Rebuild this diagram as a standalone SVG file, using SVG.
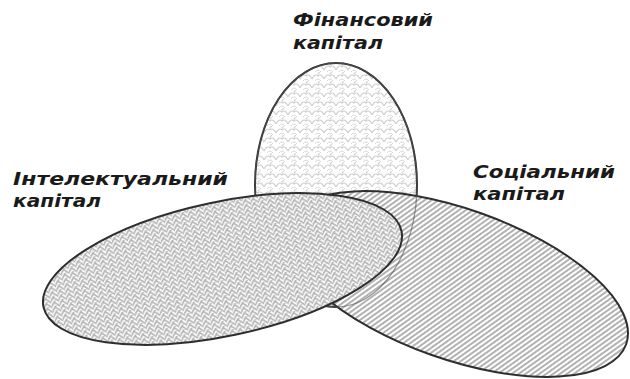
<svg xmlns="http://www.w3.org/2000/svg" width="630" height="379" viewBox="0 0 630 379">
  <style>
    .lbl { font-family: "DejaVu Sans", Verdana, sans-serif; font-weight: bold; font-style: italic; font-size: 17.5px; fill: #1a1a1a; }
    .edge { stroke: #2e2e2e; stroke-width: 2; }
  </style>
  <defs>
    <pattern id="hatch" width="4" height="10" patternUnits="userSpaceOnUse" patternTransform="rotate(35)">
      <rect width="4" height="10" fill="#ffffff"/>
      <line x1="2" y1="0" x2="2" y2="10" stroke="#999999" stroke-width="1.5"/>
    </pattern>
    <pattern id="weave" width="8" height="5" patternUnits="userSpaceOnUse">
      <rect width="8" height="5" fill="#ffffff"/>
      <path d="M-0.5,5.5 L4.5,-0.5 M3.5,2 L8.5,7 M3.5,-3 L8.5,2 M-0.5,0.5 L0.5,-0.5" fill="none" stroke="#b3b3b3" stroke-width="1.7"/>
    </pattern>
    <pattern id="scales" width="12" height="9" patternUnits="userSpaceOnUse">
      <rect width="12" height="9" fill="#ffffff"/>
      <path d="M0,7 Q3,1 6,4 Q9,1 12,7 M-6,2.5 Q-3,-3.5 0,-0.5 M6,2.5 Q9,-3.5 12,-0.5" fill="none" stroke="#d0d0d0" stroke-width="1.1"/>
      <path d="M3,9 Q6,5 9,9" fill="none" stroke="#d8d8d8" stroke-width="1"/>
    </pattern>
  </defs>

  <g id="financial-capital">
    <ellipse cx="336" cy="185" rx="81" ry="122" fill="url(#scales)" class="edge"/>
    <text class="lbl" x="293" y="26" textLength="140" lengthAdjust="spacingAndGlyphs">Фінансовий</text>
    <text class="lbl" x="293" y="49" textLength="90" lengthAdjust="spacingAndGlyphs">капітал</text>
  </g>

  <g id="social-capital">
    <ellipse cx="456" cy="284" rx="180.5" ry="75" transform="rotate(19.5 456 284)" fill="url(#hatch)" class="edge"/>
    <text class="lbl" x="473" y="178" textLength="142" lengthAdjust="spacingAndGlyphs">Соціальний</text>
    <text class="lbl" x="473" y="200" textLength="92" lengthAdjust="spacingAndGlyphs">капітал</text>
  </g>

  <g id="financial-outline-overlay">
    <ellipse cx="336" cy="185" rx="81" ry="122" fill="none" stroke="#555555" stroke-width="1.3" stroke-opacity="0.6"/>
  </g>

  <g id="intellectual-capital">
    <ellipse cx="222.5" cy="269" rx="183" ry="67" transform="rotate(-12 222.5 269)" fill="url(#weave)" class="edge"/>
    <text class="lbl" x="13" y="185" textLength="215" lengthAdjust="spacingAndGlyphs">Інтелектуальний</text>
    <text class="lbl" x="13" y="207" textLength="88" lengthAdjust="spacingAndGlyphs">капітал</text>
  </g>

  <g id="connectors"></g>
</svg>
